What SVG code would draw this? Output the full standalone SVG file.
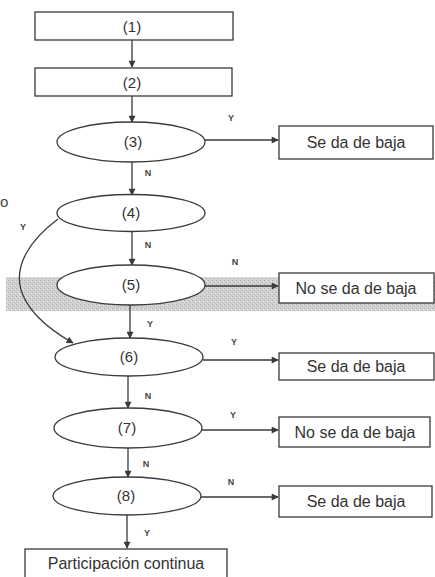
<svg xmlns="http://www.w3.org/2000/svg" width="435" height="577" viewBox="0 0 435 577">
<defs>
<marker id="ah" viewBox="0 0 10 10" refX="9" refY="5" markerWidth="9" markerHeight="7" markerUnits="userSpaceOnUse" orient="auto">
<path d="M0,0 L10,5 L0,10 z" fill="#3a3a3a"/>
</marker>
<pattern id="grain" width="4" height="4" patternUnits="userSpaceOnUse">
<rect width="4" height="4" fill="#d2d2d2"/>
<rect x="0" y="0" width="1" height="1" fill="#a8a8a8"/>
<rect x="2" y="2" width="1" height="1" fill="#b5b5b5"/>
<rect x="3" y="1" width="1" height="1" fill="#e8e8e8"/>
</pattern>
<style>
.box{fill:#fff;stroke:#3a3a3a;stroke-width:1.3}
.ell{fill:#fff;stroke:#3a3a3a;stroke-width:1.3}
.t{font-family:"Liberation Sans",Arial,sans-serif;font-size:16px;fill:#333;text-anchor:middle}
.n{font-family:"Liberation Sans",Arial,sans-serif;font-size:15px;fill:#333;text-anchor:middle}
.lb{font-family:"Liberation Sans",Arial,sans-serif;font-size:9px;font-weight:bold;fill:#444;text-anchor:middle}
.c{fill:none;stroke:#3a3a3a;stroke-width:1.3;marker-end:url(#ah)}
</style>
</defs>
<rect width="435" height="577" fill="#fff"/>
<rect x="6" y="277" width="429" height="34" fill="url(#grain)"/>
<text x="0" y="207" font-family="Liberation Sans, Arial, sans-serif" font-size="15" fill="#444">o</text>

<g id="connectors">
<line class="c" x1="132" y1="40" x2="132" y2="67"/>
<line class="c" x1="132" y1="96" x2="132" y2="122"/>
<line class="c" x1="205" y1="140" x2="278" y2="140"/>
<line class="c" x1="132" y1="162" x2="132" y2="195"/>
<line class="c" x1="132" y1="232" x2="132" y2="265"/>
<line class="c" x1="205" y1="286" x2="278" y2="286"/>
<line class="c" x1="130" y1="305" x2="130" y2="338"/>
<path class="c" d="M58,219 C30,240 14,265 21,290 C28,312 50,330 73,343"/>
<line class="c" x1="203" y1="360" x2="278" y2="360"/>
<line class="c" x1="128" y1="376" x2="128" y2="408"/>
<line class="c" x1="202" y1="430" x2="278" y2="430"/>
<line class="c" x1="128" y1="448" x2="128" y2="477"/>
<line class="c" x1="200" y1="497" x2="278" y2="497"/>
<line class="c" x1="127" y1="515" x2="127" y2="548"/>
<text class="lb" x="231" y="121">Y</text>
<text class="lb" x="148" y="176">N</text>
<text class="lb" x="23" y="230">Y</text>
<text class="lb" x="148" y="248">N</text>
<text class="lb" x="235" y="265">N</text>
<text class="lb" x="150" y="327">Y</text>
<text class="lb" x="234" y="345">Y</text>
<text class="lb" x="148" y="399">N</text>
<text class="lb" x="233" y="418">Y</text>
<text class="lb" x="146" y="467">N</text>
<text class="lb" x="231" y="485">N</text>
<text class="lb" x="147" y="536">Y</text>
</g>

<g id="n1"><rect class="box" x="35" y="12" width="198" height="28"/><text class="n" x="132" y="32">(1)</text></g>
<g id="n2"><rect class="box" x="35" y="68" width="197" height="28"/><text class="n" x="132" y="88">(2)</text></g>
<g id="n3"><ellipse class="ell" cx="131" cy="142" rx="74" ry="20"/><text class="n" x="133" y="147">(3)</text></g>
<g id="r3"><rect class="box" x="279" y="126" width="154" height="33"/><text class="t" x="356" y="148">Se da de baja</text></g>
<g id="n4"><ellipse class="ell" cx="131" cy="213" rx="74" ry="18.5"/><text class="n" x="131" y="218">(4)</text></g>
<g id="n5"><ellipse class="ell" cx="131" cy="285" rx="74" ry="20"/><text class="n" x="131" y="290">(5)</text></g>
<g id="r5"><rect class="box" x="279" y="273" width="155" height="30"/><text class="t" x="356" y="294">No se da de baja</text></g>
<g id="n6"><ellipse class="ell" cx="129" cy="357" rx="74" ry="19"/><text class="n" x="129" y="362">(6)</text></g>
<g id="r6"><rect class="box" x="279" y="353" width="155" height="27"/><text class="t" x="356" y="372">Se da de baja</text></g>
<g id="n7"><ellipse class="ell" cx="128" cy="428" rx="74" ry="20"/><text class="n" x="127" y="433">(7)</text></g>
<g id="r7"><rect class="box" x="279" y="417" width="151" height="30"/><text class="t" x="355" y="438">No se da de baja</text></g>
<g id="n8"><ellipse class="ell" cx="127" cy="496" rx="74" ry="19"/><text class="n" x="126" y="501">(8)</text></g>
<g id="r8"><rect class="box" x="279" y="486" width="153" height="31"/><text class="t" x="356" y="507">Se da de baja</text></g>
<g id="n9"><rect class="box" x="25" y="549" width="202" height="32"/><text class="t" x="126" y="569">Participación continua</text></g>
</svg>
